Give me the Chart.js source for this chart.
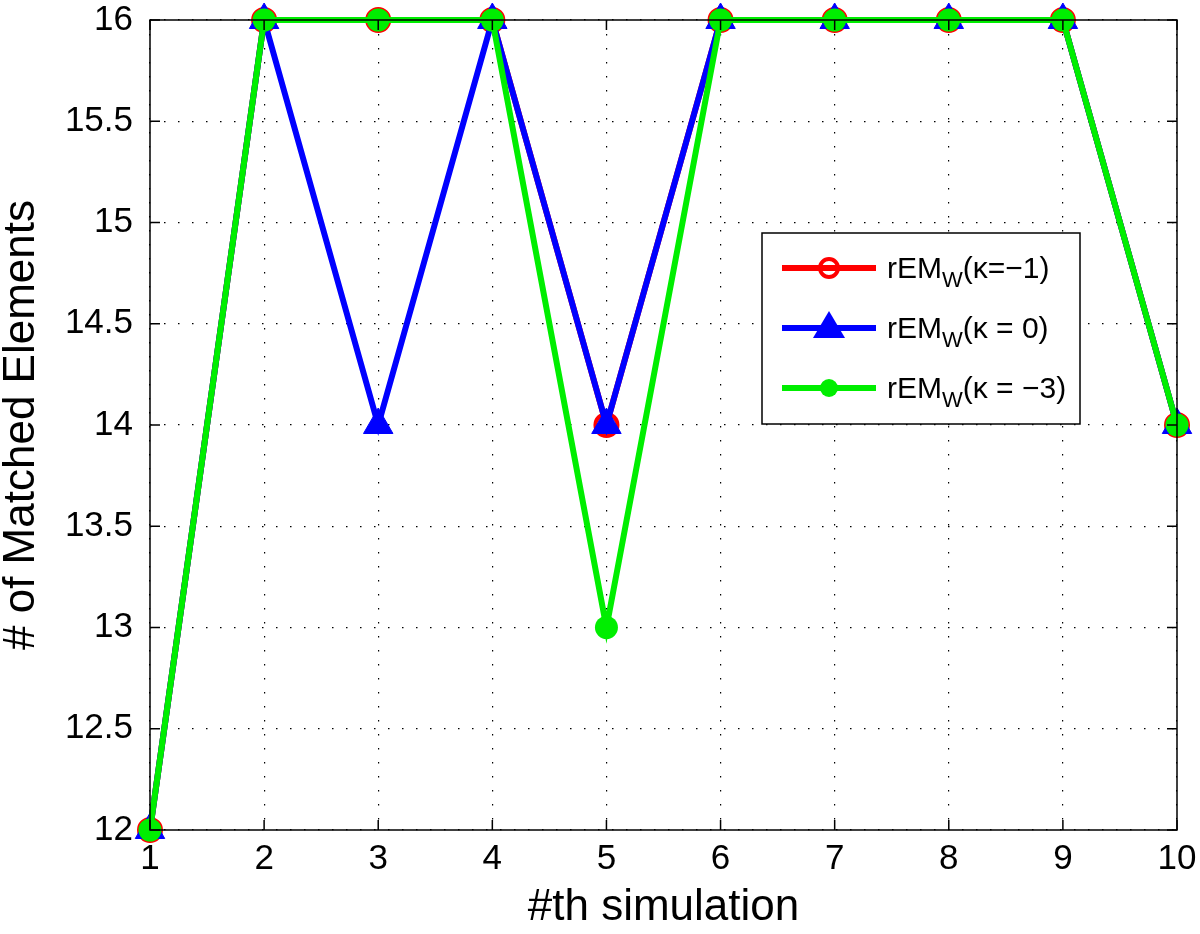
<!DOCTYPE html>
<html>
<head>
<meta charset="utf-8">
<script src="https://cdn.jsdelivr.net/npm/chart.js@4"></script>
<style>
  html, body { margin: 0; padding: 0; background: #fff; }
  #wrap { width: 1200px; height: 934px; position: relative; }
</style>
</head>
<body>
<div id="wrap"><canvas id="chart" width="1200" height="934"></canvas></div>
<script>
// Data
const simulations = [1, 2, 3, 4, 5, 6, 7, 8, 9, 10];
const kappaMinus1 = [12, 16, 16, 16, 14, 16, 16, 16, 16, 14];
const kappaZero   = [12, 16, 14, 16, 14, 16, 16, 16, 16, 14];
const kappaMinus3 = [12, 16, 16, 16, 13, 16, 16, 16, 16, 14];
const yTicks = [12, 12.5, 13, 13.5, 14, 14.5, 15, 15.5, 16];
const legendLabels = ['(\u03BA=\u22121)', '(\u03BA = 0)', '(\u03BA = \u22123)'];

const FONT = 'Liberation Sans, Arial, Helvetica, sans-serif';

function toPoints(values) {
    return simulations.map((x, i) => ({ x: x, y: values[i] }));
}

// Inward ticks, box and legend, MATLAB style
const matlabFrame = {
    id: 'matlabFrame',
    afterDatasetsDraw(chart) {
        const ctx = chart.ctx;
        const area = chart.chartArea;
        const xs = chart.scales.x;
        const ys = chart.scales.y;
        ctx.save();
        ctx.strokeStyle = '#000';
        ctx.lineWidth = 1.5;
        ctx.strokeRect(area.left, area.top, area.right - area.left, area.bottom - area.top);
        ctx.beginPath();
        simulations.forEach(v => {
            const px = xs.getPixelForValue(v);
            ctx.moveTo(px, area.bottom); ctx.lineTo(px, area.bottom - 10);
            ctx.moveTo(px, area.top); ctx.lineTo(px, area.top + 10);
        });
        yTicks.forEach(v => {
            const py = ys.getPixelForValue(v);
            ctx.moveTo(area.left, py); ctx.lineTo(area.left + 10, py);
            ctx.moveTo(area.right, py); ctx.lineTo(area.right - 10, py);
        });
        ctx.stroke();

        // legend box
        const bx = 762, by = 233, bw = 318, bh = 191;
        ctx.fillStyle = '#fff';
        ctx.fillRect(bx, by, bw, bh);
        ctx.lineWidth = 1.5;
        ctx.strokeRect(bx, by, bw, bh);

        const rows = [268, 328, 388];
        const colors = ['#ff0000', '#0000ff', '#00ee00'];
        rows.forEach((ry, i) => {
            ctx.strokeStyle = colors[i];
            ctx.lineWidth = 6;
            ctx.beginPath();
            ctx.moveTo(782, ry); ctx.lineTo(876, ry);
            ctx.stroke();
            ctx.fillStyle = colors[i];
            if (i === 0) {
                ctx.lineWidth = 4;
                ctx.beginPath();
                ctx.arc(829, ry, 9, 0, Math.PI * 2);
                ctx.stroke();
            } else if (i === 1) {
                ctx.beginPath();
                ctx.moveTo(829, ry - 17);
                ctx.lineTo(845, ry + 10);
                ctx.lineTo(813, ry + 10);
                ctx.closePath();
                ctx.fill();
            } else {
                ctx.beginPath();
                ctx.arc(829, ry, 9, 0, Math.PI * 2);
                ctx.fill();
            }
            // label with subscript w
            ctx.fillStyle = '#000';
            ctx.textBaseline = 'alphabetic';
            ctx.textAlign = 'left';
            ctx.font = '30px ' + FONT;
            let tx = 887;
            ctx.fillText('rEM', tx, ry + 10);
            tx += ctx.measureText('rEM').width;
            ctx.font = '22px ' + FONT;
            ctx.fillText('W', tx, ry + 19);
            tx += ctx.measureText('W').width;
            ctx.font = '30px ' + FONT;
            ctx.fillText(legendLabels[i], tx, ry + 10);
        });
        ctx.restore();
    }
};

const ctx = document.getElementById('chart').getContext('2d');
const chart = new Chart(ctx, {
    type: 'line',
    data: {
        datasets: [
            {
                label: 'rEMw(\u03BA=\u22121)',
                data: toPoints(kappaMinus1),
                borderColor: '#ff0000',
                backgroundColor: 'rgba(0,0,0,0)',
                borderWidth: 6,
                pointStyle: 'circle',
                pointRadius: 11,
                pointBorderWidth: 4,
                pointBorderColor: '#ff0000',
                pointBackgroundColor: 'rgba(0,0,0,0)',
                clip: false,
                order: 3
            },
            {
                label: 'rEMw(\u03BA = 0)',
                data: toPoints(kappaZero),
                borderColor: '#0000ff',
                backgroundColor: '#0000ff',
                borderWidth: 6,
                pointStyle: 'triangle',
                pointRadius: 17,
                pointBorderWidth: 1,
                pointBorderColor: '#0000ff',
                pointBackgroundColor: '#0000ff',
                clip: false,
                order: 2
            },
            {
                label: 'rEMw(\u03BA = \u22123)',
                data: toPoints(kappaMinus3),
                borderColor: '#00ee00',
                backgroundColor: '#00ee00',
                borderWidth: 6,
                pointStyle: 'circle',
                pointRadius: 11.5,
                pointBorderWidth: 0,
                pointBackgroundColor: '#00ee00',
                clip: false,
                order: 1
            }
        ]
    },
    options: {
        responsive: false,
        animation: false,
        layout: { autoPadding: false, padding: 0 },
        plugins: {
            legend: { display: false },
            tooltip: { enabled: false }
        },
        elements: { line: { tension: 0 } },
        scales: {
            x: {
                type: 'linear',
                min: 1,
                max: 10,
                afterFit: (scale) => {
                    scale.height = 104;
                    scale.paddingLeft = 0;
                    scale.paddingRight = 23;
                },
                ticks: {
                    stepSize: 1,
                    color: '#000',
                    font: { family: FONT, size: 35 },
                    padding: 8,
                    maxRotation: 0
                },
                grid: {
                    color: '#000',
                    lineWidth: 1.2,
                    drawTicks: false
                },
                border: { display: false, dash: [1.5, 12.5] },
                title: {
                    display: true,
                    text: '#th simulation',
                    color: '#000',
                    font: { family: FONT, size: 44, lineHeight: 1 },
                    padding: { top: 0, bottom: 4 }
                }
            },
            y: {
                type: 'linear',
                min: 12,
                max: 16,
                afterFit: (scale) => {
                    scale.width = 150;
                    scale.paddingTop = 20;
                    scale.paddingBottom = 0;
                },
                afterBuildTicks: (scale) => { scale.ticks = yTicks.map(v => ({ value: v })); },
                ticks: {
                    color: '#000',
                    font: { family: FONT, size: 35 },
                    padding: 17,
                    callback: (v) => String(v)
                },
                grid: {
                    color: '#000',
                    lineWidth: 1.2,
                    drawTicks: false
                },
                border: { display: false, dash: [1.5, 12.5] },
                title: {
                    display: true,
                    text: '# of Matched Elements',
                    color: '#000',
                    font: { family: FONT, size: 44, lineHeight: 1 },
                    padding: { top: 0, bottom: 0 }
                }
            }
        }
    },
    plugins: [matlabFrame]
});
</script>
</body>
</html>
